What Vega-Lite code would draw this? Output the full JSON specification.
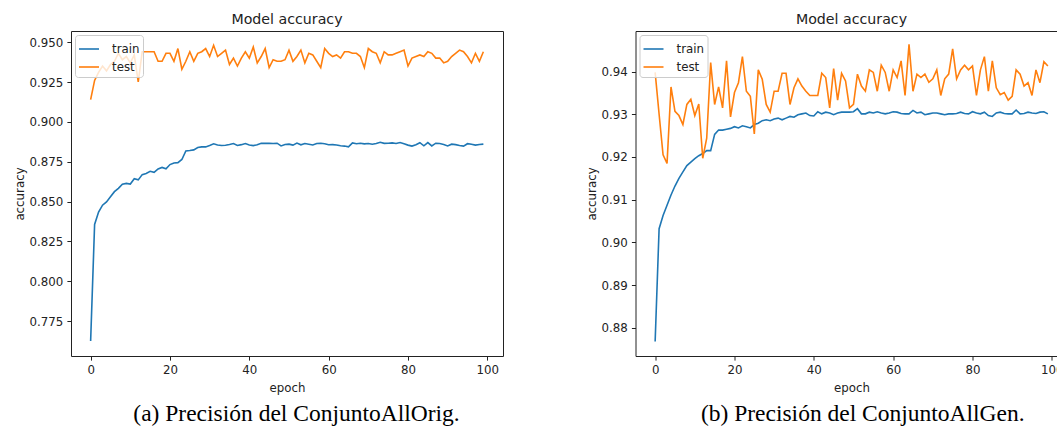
{
  "$schema": "https://vega.github.io/schema/vega-lite/v6.json",
  "padding": {"left": 13, "top": 12, "right": 0, "bottom": 0},
  "config": {
    "font": "DejaVu Sans",
    "view": {"stroke": "#222222", "strokeWidth": 1},
    "axis": {
      "domain": false, "grid": false, "ticks": true, "tickSize": 4.1, "tickColor": "#222222", "tickWidth": 1,
      "labelFontSize": 11.8, "labelColor": "#222222", "labelPadding": 4.1,
      "titleFontSize": 11.8, "titleFontWeight": "normal", "titleColor": "#222222", "titlePadding": 4
    },
    "axisX": {"titlePadding": 6},
    "title": {"fontSize": 14.2, "fontWeight": "normal", "color": "#222222", "offset": 4},
    "legend": {
      "title": null, "orient": "top-left", "offset": 4, "padding": 3, "zindex": 1,
      "fillColor": "rgba(255,255,255,0.8)", "strokeColor": "#cccccc", "cornerRadius": 3,
      "symbolType": "stroke", "symbolStrokeWidth": 1.8, "symbolSize": 400,
      "labelFontSize": 11.8, "labelColor": "#222222", "labelOffset": 12, "rowPadding": -4
    },
    "line": {"strokeWidth": 1.6},
    "concat": {"spacing": 81.5}
  },
  "datasets": {
    "orig": [
      {"epoch":0,"train":0.7625,"test":0.914},{"epoch":1,"train":0.8356,"test":0.926},{"epoch":2,"train":0.8434,"test":0.931},{"epoch":3,"train":0.8477,"test":0.935},{"epoch":4,"train":0.8498,"test":0.932},
      {"epoch":5,"train":0.853,"test":0.936},{"epoch":6,"train":0.8562,"test":0.938},{"epoch":7,"train":0.8583,"test":0.943},{"epoch":8,"train":0.8609,"test":0.939},{"epoch":9,"train":0.8614,"test":0.941},
      {"epoch":10,"train":0.861,"test":0.937},{"epoch":11,"train":0.8643,"test":0.942},{"epoch":12,"train":0.8636,"test":0.925},{"epoch":13,"train":0.8669,"test":0.944},{"epoch":14,"train":0.8676,"test":0.944},
      {"epoch":15,"train":0.869,"test":0.944},{"epoch":16,"train":0.8683,"test":0.944},{"epoch":17,"train":0.8705,"test":0.938},{"epoch":18,"train":0.8714,"test":0.938},{"epoch":19,"train":0.8705,"test":0.943},
      {"epoch":20,"train":0.8732,"test":0.943},{"epoch":21,"train":0.8742,"test":0.938},{"epoch":22,"train":0.8744,"test":0.946},{"epoch":23,"train":0.8764,"test":0.933},{"epoch":24,"train":0.8817,"test":0.938},
      {"epoch":25,"train":0.882,"test":0.944},{"epoch":26,"train":0.8824,"test":0.938},{"epoch":27,"train":0.8839,"test":0.943},{"epoch":28,"train":0.8843,"test":0.944},{"epoch":29,"train":0.8843,"test":0.946},
      {"epoch":30,"train":0.8852,"test":0.941},{"epoch":31,"train":0.8862,"test":0.948},{"epoch":32,"train":0.8855,"test":0.941},{"epoch":33,"train":0.8852,"test":0.943},{"epoch":34,"train":0.8853,"test":0.945},
      {"epoch":35,"train":0.8858,"test":0.936},{"epoch":36,"train":0.8864,"test":0.94},{"epoch":37,"train":0.8852,"test":0.935},{"epoch":38,"train":0.8857,"test":0.94},{"epoch":39,"train":0.8864,"test":0.944},
      {"epoch":40,"train":0.8855,"test":0.94},{"epoch":41,"train":0.8851,"test":0.947},{"epoch":42,"train":0.8856,"test":0.937},{"epoch":43,"train":0.8866,"test":0.941},{"epoch":44,"train":0.8865,"test":0.946},
      {"epoch":45,"train":0.8866,"test":0.934},{"epoch":46,"train":0.8864,"test":0.939},{"epoch":47,"train":0.8866,"test":0.938},{"epoch":48,"train":0.8849,"test":0.938},{"epoch":49,"train":0.8858,"test":0.939},
      {"epoch":50,"train":0.886,"test":0.945},{"epoch":51,"train":0.8854,"test":0.938},{"epoch":52,"train":0.8867,"test":0.941},{"epoch":53,"train":0.8856,"test":0.945},{"epoch":54,"train":0.8864,"test":0.937},
      {"epoch":55,"train":0.886,"test":0.943},{"epoch":56,"train":0.8855,"test":0.942},{"epoch":57,"train":0.8864,"test":0.938},{"epoch":58,"train":0.8866,"test":0.934},{"epoch":59,"train":0.8863,"test":0.946},
      {"epoch":60,"train":0.8856,"test":0.943},{"epoch":61,"train":0.8857,"test":0.941},{"epoch":62,"train":0.8855,"test":0.942},{"epoch":63,"train":0.885,"test":0.94},{"epoch":64,"train":0.8848,"test":0.944},
      {"epoch":65,"train":0.8843,"test":0.944},{"epoch":66,"train":0.8868,"test":0.943},{"epoch":67,"train":0.8863,"test":0.943},{"epoch":68,"train":0.8866,"test":0.941},{"epoch":69,"train":0.8862,"test":0.934},
      {"epoch":70,"train":0.8864,"test":0.946},{"epoch":71,"train":0.886,"test":0.944},{"epoch":72,"train":0.8864,"test":0.943},{"epoch":73,"train":0.8872,"test":0.937},{"epoch":74,"train":0.8865,"test":0.944},
      {"epoch":75,"train":0.8866,"test":0.942},{"epoch":76,"train":0.8868,"test":0.942},{"epoch":77,"train":0.8864,"test":0.943},{"epoch":78,"train":0.887,"test":0.944},{"epoch":79,"train":0.8862,"test":0.945},
      {"epoch":80,"train":0.8854,"test":0.935},{"epoch":81,"train":0.8848,"test":0.94},{"epoch":82,"train":0.8856,"test":0.941},{"epoch":83,"train":0.8869,"test":0.942},{"epoch":84,"train":0.885,"test":0.941},
      {"epoch":85,"train":0.887,"test":0.944},{"epoch":86,"train":0.8849,"test":0.943},{"epoch":87,"train":0.8866,"test":0.94},{"epoch":88,"train":0.8864,"test":0.94},{"epoch":89,"train":0.8858,"test":0.937},
      {"epoch":90,"train":0.8849,"test":0.938},{"epoch":91,"train":0.886,"test":0.941},{"epoch":92,"train":0.8857,"test":0.943},{"epoch":93,"train":0.8852,"test":0.945},{"epoch":94,"train":0.8848,"test":0.944},
      {"epoch":95,"train":0.8863,"test":0.941},{"epoch":96,"train":0.886,"test":0.937},{"epoch":97,"train":0.8854,"test":0.943},{"epoch":98,"train":0.8858,"test":0.938},{"epoch":99,"train":0.886,"test":0.944}
    ],
    "gen": [
      {"epoch":0,"train":0.8768,"test":0.9398},{"epoch":1,"train":0.9032,"test":0.93},{"epoch":2,"train":0.9063,"test":0.9205},{"epoch":3,"train":0.9087,"test":0.9185},{"epoch":4,"train":0.9111,"test":0.9364},
      {"epoch":5,"train":0.9132,"test":0.9307},{"epoch":6,"train":0.915,"test":0.9297},{"epoch":7,"train":0.9165,"test":0.9276},{"epoch":8,"train":0.918,"test":0.9323},{"epoch":9,"train":0.9188,"test":0.9335},
      {"epoch":10,"train":0.9196,"test":0.9297},{"epoch":11,"train":0.9203,"test":0.9324},{"epoch":12,"train":0.9208,"test":0.9197},{"epoch":13,"train":0.9215,"test":0.9244},{"epoch":14,"train":0.9215,"test":0.9421},
      {"epoch":15,"train":0.9253,"test":0.9323},{"epoch":16,"train":0.9263,"test":0.9364},{"epoch":17,"train":0.9263,"test":0.9315},{"epoch":18,"train":0.9265,"test":0.9425},{"epoch":19,"train":0.9267,"test":0.9294},
      {"epoch":20,"train":0.9271,"test":0.9351},{"epoch":21,"train":0.9268,"test":0.9374},{"epoch":22,"train":0.9273,"test":0.9435},{"epoch":23,"train":0.9271,"test":0.9354},{"epoch":24,"train":0.9268,"test":0.9342},
      {"epoch":25,"train":0.9276,"test":0.9254},{"epoch":26,"train":0.9279,"test":0.9404},{"epoch":27,"train":0.9285,"test":0.9382},{"epoch":28,"train":0.9287,"test":0.9323},{"epoch":29,"train":0.9285,"test":0.9305},
      {"epoch":30,"train":0.9289,"test":0.9354},{"epoch":31,"train":0.9291,"test":0.9354},{"epoch":32,"train":0.9287,"test":0.9396},{"epoch":33,"train":0.9291,"test":0.9396},{"epoch":34,"train":0.9295,"test":0.9323},
      {"epoch":35,"train":0.9293,"test":0.9362},{"epoch":36,"train":0.9299,"test":0.9383},{"epoch":37,"train":0.9301,"test":0.9366},{"epoch":38,"train":0.9303,"test":0.9354},{"epoch":39,"train":0.9297,"test":0.9344},
      {"epoch":40,"train":0.9296,"test":0.9344},{"epoch":41,"train":0.9306,"test":0.9344},{"epoch":42,"train":0.9301,"test":0.9396},{"epoch":43,"train":0.9305,"test":0.9386},{"epoch":44,"train":0.9303,"test":0.9315},
      {"epoch":45,"train":0.9299,"test":0.9407},{"epoch":46,"train":0.9303,"test":0.9333},{"epoch":47,"train":0.9305,"test":0.9396},{"epoch":48,"train":0.9305,"test":0.9378},{"epoch":49,"train":0.9305,"test":0.9315},
      {"epoch":50,"train":0.9306,"test":0.9323},{"epoch":51,"train":0.9313,"test":0.9394},{"epoch":52,"train":0.9301,"test":0.9366},{"epoch":53,"train":0.9301,"test":0.9354},{"epoch":54,"train":0.9305,"test":0.9404},
      {"epoch":55,"train":0.9303,"test":0.9398},{"epoch":56,"train":0.9306,"test":0.9354},{"epoch":57,"train":0.9303,"test":0.9415},{"epoch":58,"train":0.9301,"test":0.9398},{"epoch":59,"train":0.9303,"test":0.9354},
      {"epoch":60,"train":0.9306,"test":0.9404},{"epoch":61,"train":0.9305,"test":0.9386},{"epoch":62,"train":0.9302,"test":0.9425},{"epoch":63,"train":0.9301,"test":0.9344},{"epoch":64,"train":0.9301,"test":0.9464},
      {"epoch":65,"train":0.9309,"test":0.9354},{"epoch":66,"train":0.9303,"test":0.9394},{"epoch":67,"train":0.9305,"test":0.9386},{"epoch":68,"train":0.9299,"test":0.9394},{"epoch":69,"train":0.9301,"test":0.9375},
      {"epoch":70,"train":0.9303,"test":0.9383},{"epoch":71,"train":0.9303,"test":0.9404},{"epoch":72,"train":0.9301,"test":0.9344},{"epoch":73,"train":0.9299,"test":0.9383},{"epoch":74,"train":0.9301,"test":0.9394},
      {"epoch":75,"train":0.9301,"test":0.9453},{"epoch":76,"train":0.9302,"test":0.9383},{"epoch":77,"train":0.9305,"test":0.9404},{"epoch":78,"train":0.9302,"test":0.9415},{"epoch":79,"train":0.9301,"test":0.9404},
      {"epoch":80,"train":0.9306,"test":0.9413},{"epoch":81,"train":0.9303,"test":0.9344},{"epoch":82,"train":0.9301,"test":0.9404},{"epoch":83,"train":0.9305,"test":0.9435},{"epoch":84,"train":0.9297,"test":0.9354},
      {"epoch":85,"train":0.9295,"test":0.9425},{"epoch":86,"train":0.9303,"test":0.9362},{"epoch":87,"train":0.9305,"test":0.9346},{"epoch":88,"train":0.9302,"test":0.9351},{"epoch":89,"train":0.9301,"test":0.9333},
      {"epoch":90,"train":0.9301,"test":0.9342},{"epoch":91,"train":0.931,"test":0.9404},{"epoch":92,"train":0.9301,"test":0.9394},{"epoch":93,"train":0.9302,"test":0.9366},{"epoch":94,"train":0.9305,"test":0.9374},
      {"epoch":95,"train":0.9303,"test":0.9344},{"epoch":96,"train":0.9302,"test":0.9404},{"epoch":97,"train":0.9305,"test":0.9374},{"epoch":98,"train":0.9306,"test":0.9423},{"epoch":99,"train":0.9301,"test":0.9413}
    ]
  },
  "resolve": {"scale": {"x": "independent", "y": "independent", "color": "independent"}, "legend": {"color": "independent"}},
  "hconcat": [
    {
      "title": {"text": "(a) Precisión del ConjuntoAllOrig.", "orient": "bottom", "anchor": "middle", "font": "Liberation Serif", "fontSize": 23.5, "fontWeight": "normal", "color": "#000000", "dx": 38, "offset": 8},
      "vconcat": [
        {
          "title": "Model accuracy",
          "width": 432, "height": 325,
          "data": {"name": "orig"},
          "transform": [{"fold": ["train", "test"], "as": ["series", "accuracy"]}],
          "mark": {"type": "line", "clip": true},
          "encoding": {
            "x": {"field": "epoch", "type": "quantitative", "scale": {"domain": [-4.95, 103.95], "nice": false, "zero": false}, "axis": {"values": [0, 20, 40, 60, 80, 100], "title": "epoch"}},
            "y": {"field": "accuracy", "type": "quantitative", "scale": {"domain": [0.7531, 0.957], "nice": false, "zero": false}, "axis": {"values": [0.775, 0.8, 0.825, 0.85, 0.875, 0.9, 0.925, 0.95], "format": ".3f", "title": "accuracy"}},
            "color": {"field": "series", "type": "nominal", "sort": ["train", "test"], "scale": {"domain": ["train", "test"], "range": ["#1f77b4", "#ff7f0e"]}, "legend": {"title": null, "labelOffset": 12}}
          }
        }
      ]
    },
    {
      "title": {"text": "(b) Precisión del ConjuntoAllGen.", "orient": "bottom", "anchor": "middle", "font": "Liberation Serif", "fontSize": 23.5, "fontWeight": "normal", "color": "#000000", "dx": 36, "offset": 8},
      "vconcat": [
        {
          "title": "Model accuracy",
          "width": 432, "height": 325,
          "data": {"name": "gen"},
          "transform": [{"fold": ["train", "test"], "as": ["series", "accuracy"]}],
          "mark": {"type": "line", "clip": true},
          "encoding": {
            "x": {"field": "epoch", "type": "quantitative", "scale": {"domain": [-4.95, 103.95], "nice": false, "zero": false}, "axis": {"values": [0, 20, 40, 60, 80, 100], "title": "epoch"}},
            "y": {"field": "accuracy", "type": "quantitative", "scale": {"domain": [0.8734, 0.9495], "nice": false, "zero": false}, "axis": {"values": [0.88, 0.89, 0.9, 0.91, 0.92, 0.93, 0.94], "format": ".2f", "title": "accuracy"}},
            "color": {"field": "series", "type": "nominal", "sort": ["train", "test"], "scale": {"domain": ["train", "test"], "range": ["#1f77b4", "#ff7f0e"]}, "legend": {"title": null, "labelOffset": 12}}
          }
        }
      ]
    }
  ]
}
